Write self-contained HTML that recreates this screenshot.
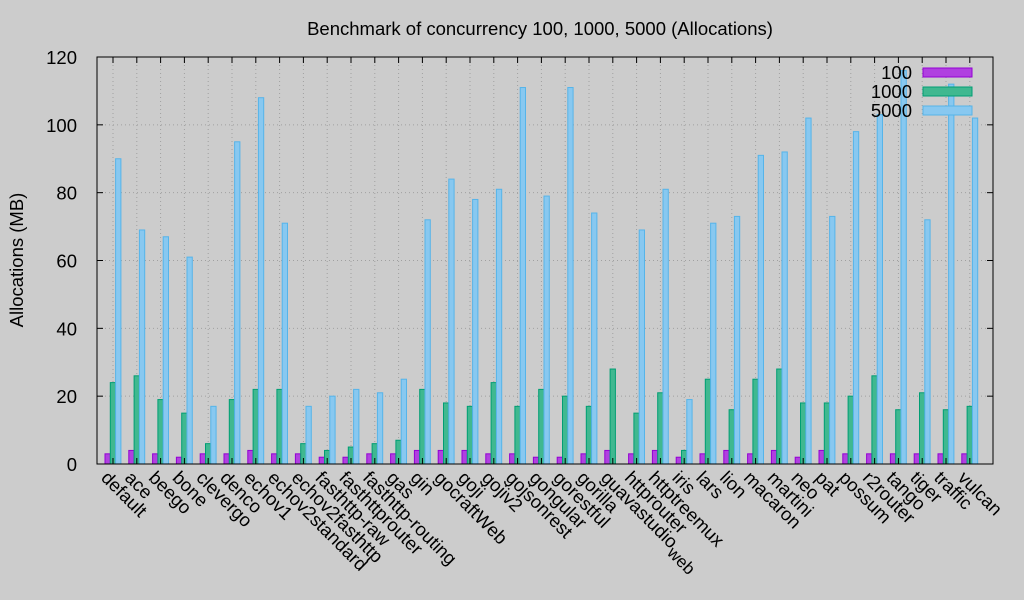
<!DOCTYPE html>
<html><head><meta charset="utf-8"><style>
body{margin:0;background:#ccc;font-family:"Liberation Sans",sans-serif}
svg{display:block}
</style></head><body>
<svg id="chart" width="1024" height="600" xmlns="http://www.w3.org/2000/svg">
<rect width="1024" height="600" fill="#cccccc"/>
<text x="540" y="35" font-size="18.5" text-anchor="middle">Benchmark of concurrency 100, 1000, 5000 (Allocations)</text>
<text transform="translate(23,260) rotate(-90)" font-size="18.5" text-anchor="middle">Allocations (MB)</text>
<g id="grid"></g><g id="bars"></g><g id="axes"></g><g id="legend"></g>
</svg>
<script>
const categories=["default","ace","beego","bone","clevergo","denco","echov1","echov2standard","echov2fasthttp","fasthttp-raw","fasthttprouter","fasthttp-routing","gas","gin","gocraftWeb","goji","gojiv2","gojsonrest","gongular","gorestful","gorilla","guavastudio_web","httprouter","httptreemux","iris","lars","lion","macaron","martini","neo","pat","possum","r2router","tango","tiger","traffic","vulcan"];
const s100=[3,4,3,2,3,3,4,3,3,2,2,3,3,4,4,4,3,3,2,2,3,4,3,4,2,3,4,3,4,2,4,3,3,3,3,3,3];
const s1000=[24,26,19,15,6,19,22,22,6,4,5,6,7,22,18,17,24,17,22,20,17,28,15,21,4,25,16,25,28,18,18,20,26,16,21,16,17];
const s5000=[90,69,67,61,17,95,108,71,17,20,22,21,25,72,84,78,81,111,79,111,74,0,69,81,19,71,73,91,92,102,73,98,103,116,72,112,102];
const seriesNames=["100","1000","5000"];
const yTicks=[0,20,40,60,80,100,120];
const NS="http://www.w3.org/2000/svg";
const L=97,R=993,T=57,B=464,yMax=120;
const y=v=>B-(v/yMax)*(B-T);
const xc=i=>113+i*23.8;
function mk(tag,attrs,parent){const e=document.createElementNS(NS,tag);for(const k in attrs)e.setAttribute(k,attrs[k]);parent.appendChild(e);return e;}
const grid=document.getElementById('grid'),bars=document.getElementById('bars'),axes=document.getElementById('axes'),legend=document.getElementById('legend');
yTicks.forEach(t=>{
  const g=mk('line',{x1:L,x2:R,y1:y(t),y2:y(t),stroke:'#a0a0a0','stroke-dasharray':'1,3'},grid);
  
  
  const tl=mk('text',{x:L-20,y:y(t)+7,'font-size':18.5,'text-anchor':'end'},axes);
  tl.textContent=t;
  
  
  mk('line',{x1:L,x2:L+6,y1:y(t),y2:y(t),stroke:'#000'},axes);
  mk('line',{x1:R,x2:R-6,y1:y(t),y2:y(t),stroke:'#000'},axes);
});
const colors=[["#b040e0","#9400d3"],["#40b890","#009e73"],["#88c8f0","#56b4e9"]];
const series=[s100,s1000,s5000];
const offs=[-8,-2.7,2.6],bw=5.3;
categories.forEach((c,i)=>{
  const cx=xc(i);
  const gl=mk('line',{x1:cx,x2:cx,y1:T,y2:B,stroke:'#a0a0a0','stroke-dasharray':'1,3'},grid);
  
  
  mk('line',{x1:cx,x2:cx,y1:B,y2:B-6,stroke:'#000'},axes);
  mk('line',{x1:cx,x2:cx,y1:T,y2:T+6,stroke:'#000'},axes);
  series.forEach((s,k)=>{
    const v=s[i]; if(!v) return;
    const r=mk('rect',{x:cx+offs[k],y:y(v),width:bw,height:B-y(v),fill:colors[k][0],stroke:colors[k][1],'stroke-width':1},bars);
    
    
  });
  const lx=cx-3,ly=469;
  const t=mk('text',{x:lx,y:ly+14,'font-size':18.5,transform:`rotate(45 ${lx} ${ly})`},axes);
  if(c.includes('_')){
    const p=c.split('_');
    t.appendChild(document.createTextNode(p[0]));
    const sub=mk('tspan',{dy:6,'font-size':17},t);
    sub.textContent=p[1];
  } else t.textContent=c;
  
  
});
const fr=mk('rect',{x:L,y:T,width:R-L,height:B-T,fill:'none',stroke:'#000'},axes);


seriesNames.forEach((n,k)=>{
  const ly=72+k*19;
  const t=mk('text',{x:912,y:ly+7,'font-size':18.5,'text-anchor':'end'},legend);
  t.textContent=n;
  
  
  const r=mk('rect',{x:923,y:ly-4,width:49,height:9,fill:colors[k][0],stroke:colors[k][1]},legend);
  
  
});
</script>
</body></html>
